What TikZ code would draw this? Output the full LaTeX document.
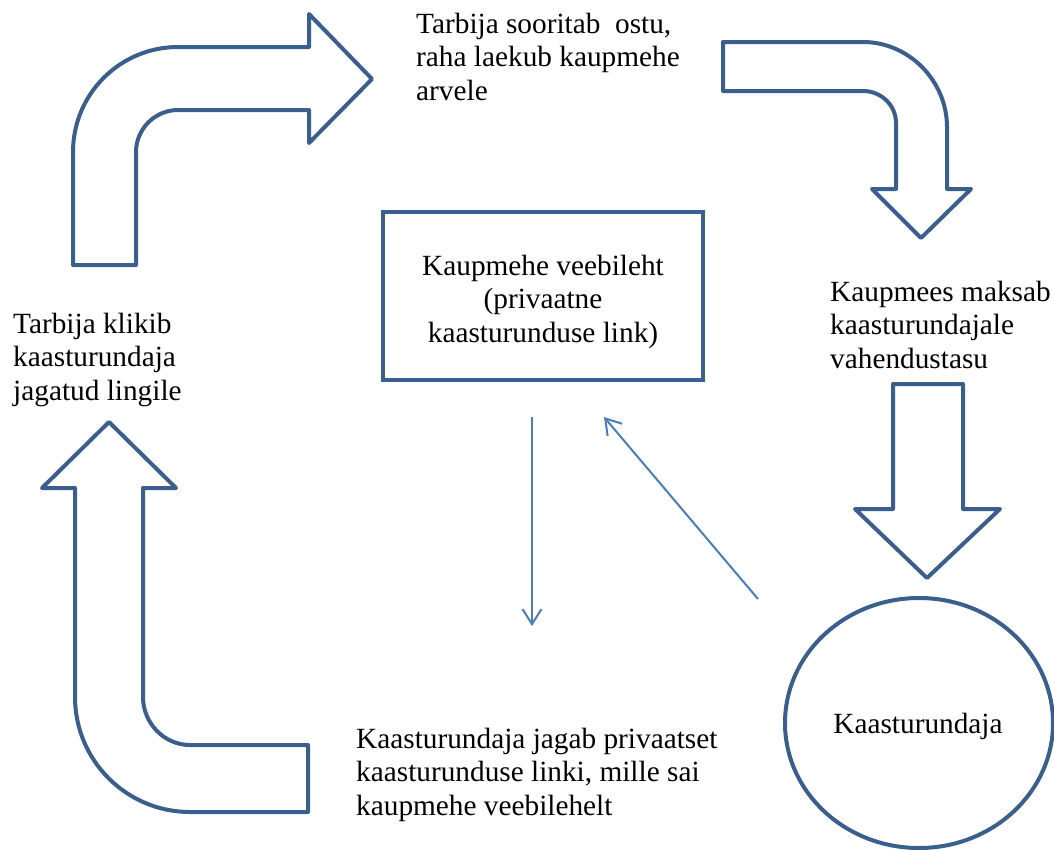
\documentclass[tikz,border=0pt]{standalone}
\usepackage{fontspec}
\setmainfont{Liberation Serif}
\usetikzlibrary{shapes.geometric,arrows.meta}
\definecolor{outl}{HTML}{3A5F8C}
\definecolor{thin}{HTML}{4A7EBB}
\tikzset{
  bigarrow/.style={draw=outl,line width=4pt,line join=round,fill=white},
  txt/.style={inner sep=0pt,align=left,font=\fontsize{29.3}{33.5}\selectfont},
  thinarrow/.style={draw=thin,line width=2pt,-{Straight Barb[length=15pt,width=19pt,line width=2pt]}},
}
\begin{document}
\begin{tikzpicture}[x=1pt,y=-1pt]
\useasboundingbox (0,0) rectangle (1054,849);
% top-left bent arrow
\draw[bigarrow] (73,265) -- (73,152) .. controls (73,94) and (120,47) .. (178,47)
  -- (309,47) -- (309,14) -- (372,79) -- (309,143) -- (309,110) -- (178,110)
  .. controls (155,110) and (136,129) .. (136,152) -- (136,265) -- cycle;
% top-right bent arrow
\draw[bigarrow] (723,42) -- (863,42) .. controls (909,42) and (947,81) .. (947,127)
  -- (947,189) -- (971,189) -- (921,238) -- (872,189) -- (896,189) -- (896,123)
  .. controls (896,105) and (881,91) .. (863,91) -- (723,91) -- cycle;
% bottom-left bent arrow
\draw[bigarrow] (109,422) -- (176,488) -- (143,488) -- (143,697)
  .. controls (143,723) and (164,745) .. (190,745) -- (308,745) -- (308,812)
  -- (190,812) .. controls (126.5,812) and (75,760.5) .. (75,697) -- (75,488) -- (42,488) -- cycle;
% right straight arrow
\draw[bigarrow] (893,384) -- (963,384) -- (963,509) -- (1000,509) -- (927,578) -- (855,509) -- (893,509) -- cycle;
% box
\node[draw=outl,line width=4pt,minimum width=320pt,minimum height=168pt,inner sep=0pt] (web) at (543,296) {};
\node[txt,align=center,anchor=base] (webtxt) at (543,342)
  {Kaupmehe veebileht\\(privaatne\\kaasturunduse link)};
% circle
\node[draw=outl,line width=4pt,ellipse,minimum width=268pt,minimum height=250pt,inner sep=0pt] (kaas) at (919,723) {};
\node[txt,anchor=base] (kaastxt) at (918,733) {Kaasturundaja};
% texts
\node[txt,anchor=base west] (t1) at (416,100) {Tarbija sooritab\ \ ostu,\\raha laekub kaupmehe\\arvele};
\node[txt,anchor=base west] (t2) at (13,400) {Tarbija klikib\\kaasturundaja\\jagatud lingile};
\node[txt,anchor=base west] (t3) at (830,368) {Kaupmees maksab\\kaasturundajale\\vahendustasu};
\node[txt,anchor=base west] (t4) at (356,815) {Kaasturundaja jagab privaatset\\kaasturunduse linki, mille sai\\kaupmehe veebilehelt};
% thin arrows
\coordinate (a1) at (532,417);
\coordinate (a2) at (532,626);
\coordinate (b1) at (758,599);
\coordinate (b2) at (604,417);
\draw[thinarrow] (a1) -- (a2);
\draw[thinarrow] (b1) -- (b2);
\end{tikzpicture}
\end{document}
